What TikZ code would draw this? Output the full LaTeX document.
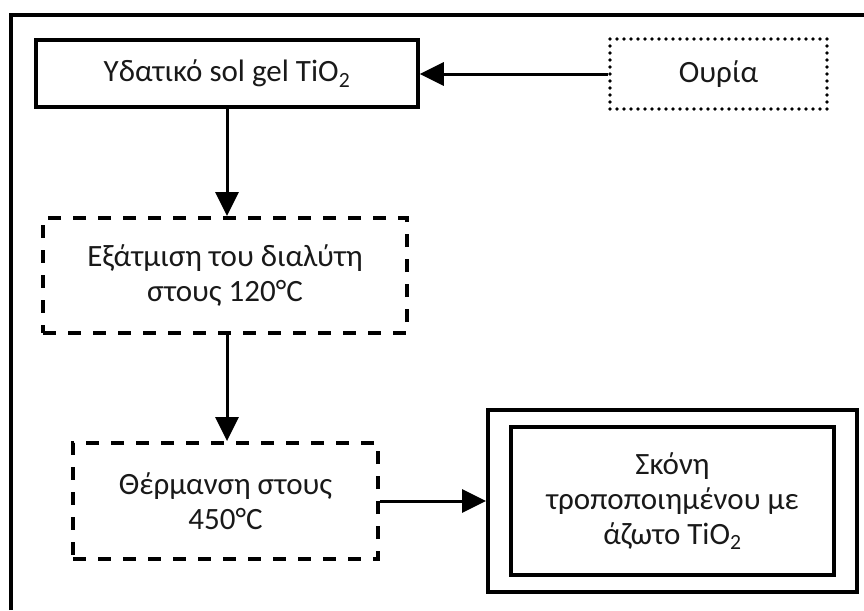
\documentclass[tikz,border=0pt]{standalone}
\usepackage{fontspec}
\setmainfont{Carlito}
\usetikzlibrary{arrows.meta}
\begin{document}
\begin{tikzpicture}[x=1pt,y=-1pt,
  box/.style={draw, line width=3.5pt, rectangle, align=center, inner sep=0pt,
    font=\fontsize{31}{35}\selectfont, text=black!90},
  dashbox/.style={box, line width=3.8pt, dash pattern=on 13pt off 12pt},
  dotbox/.style={box, line width=3.8pt, line cap=round, dash pattern=on 0pt off 7pt},
  conn/.style={line width=3pt, -{Triangle[length=24pt,width=23pt]}}
]
\useasboundingbox (0,0) rectangle (864,610);
\draw[line width=4pt] (11,610) -- (11,15) -- (864,15);

\node[box, minimum width=382pt, minimum height=67pt] (sol) at (227,73.5)
  {Υδατικό sol gel TiO\textsubscript{2}};
\node[dotbox, minimum width=217pt, minimum height=70pt] (urea) at (718.5,74) {Ουρία};
\node[dashbox, minimum width=364pt, minimum height=115pt] (evap) at (225,275.5)
  {Εξάτμιση του διαλύτη\\στους 120°C};
\node[dashbox, minimum width=305pt, minimum height=116pt] (heat) at (225.5,501)
  {Θέρμανση στους\\450°C};
\node[box, line width=4pt, minimum width=369pt, minimum height=182pt] (fin) at (672.5,501) {};
\node[box, line width=4pt, minimum width=323pt, minimum height=148pt] (finin) at (672.5,501)
  {Σκόνη\\τροποποιημένου με\\άζωτο TiO\textsubscript{2}};

\draw[conn] (urea.west) -- (urea.west -| sol.east);
\draw[conn] (sol.south) -- (sol.south |- evap.north);
\draw[conn] (evap.south -| sol.south) -- (heat.north -| sol.south);
\draw[conn] (heat.east) -- (heat.east -| fin.west);
\end{tikzpicture}
\end{document}
